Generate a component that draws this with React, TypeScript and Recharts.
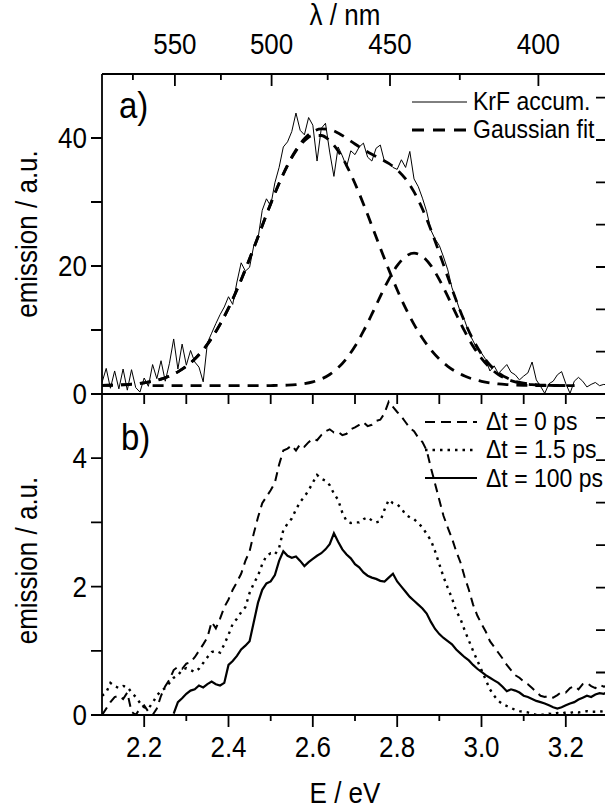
import React from 'react';
import { LineChart, Line, XAxis, YAxis, Legend, Customized } from 'recharts';

const FONT = '"Liberation Sans", Arial, Helvetica, sans-serif';
const INK = '#000';
const STRETCH = 1.12; // lettering in the figure is a bit taller than plain Arial

// photon energy grid of the measured spectra (eV)
const energy = [
  2.10, 2.11, 2.12, 2.13, 2.14, 2.15, 2.16, 2.17, 2.18, 2.19,
  2.20, 2.21, 2.22, 2.23, 2.24, 2.25, 2.26, 2.27, 2.28, 2.29,
  2.30, 2.31, 2.32, 2.33, 2.34, 2.35, 2.36, 2.37, 2.38, 2.39,
  2.40, 2.41, 2.42, 2.43, 2.44, 2.45, 2.46, 2.47, 2.48, 2.49,
  2.50, 2.51, 2.52, 2.53, 2.54, 2.55, 2.56, 2.57, 2.58, 2.59,
  2.60, 2.61, 2.62, 2.63, 2.64, 2.65, 2.66, 2.67, 2.68, 2.69,
  2.70, 2.71, 2.72, 2.73, 2.74, 2.75, 2.76, 2.77, 2.78, 2.79,
  2.80, 2.81, 2.82, 2.83, 2.84, 2.85, 2.86, 2.87, 2.88, 2.89,
  2.90, 2.91, 2.92, 2.93, 2.94, 2.95, 2.96, 2.97, 2.98, 2.99,
  3.00, 3.01, 3.02, 3.03, 3.04, 3.05, 3.06, 3.07, 3.08, 3.09,
  3.10, 3.11, 3.12, 3.13, 3.14, 3.15, 3.16, 3.17, 3.18, 3.19,
  3.20, 3.21, 3.22, 3.23, 3.24, 3.25, 3.26, 3.27, 3.28, 3.29,
  3.30,
];

// a) accumulated KrF emission
const krfAccum = [
  1.8, 4.0, 0.9, 3.6, 0.8, 3.9, 0.6, 3.8, 1.0, 0.3,
  2.5, 1.2, 4.6, 2.4, 5.2, 2.0, 4.8, 8.6, 3.9, 7.8,
  4.5, 6.8, 5.0, 4.2, 1.9, 8.0, 9.5, 11.0, 12.4, 13.6,
  15.2, 14.0, 17.5, 20.5, 19.2, 19.8, 23.2, 24.3, 28.7, 30.5,
  29.4, 33.0, 35.4, 38.6, 39.4, 41.0, 43.9, 41.2, 40.5, 43.2,
  42.0, 36.4, 41.5, 42.3, 37.8, 34.0, 38.6, 37.2, 35.5, 38.0,
  37.4, 38.6, 39.2, 37.0, 36.4, 38.4, 38.9, 36.3, 36.1, 35.4,
  35.1, 36.6, 35.4, 37.9, 33.6, 32.4, 30.6, 28.5, 25.6, 24.2,
  23.2, 21.4, 19.4, 16.6, 14.8, 12.8, 11.5, 9.6, 8.3, 7.0,
  6.4, 5.4, 3.6, 4.4, 3.2, 3.9, 4.6, 3.4, 3.0, 2.2,
  2.8, 3.3, 5.0, 2.2, 1.2, 0.1, 1.6, 2.0, 3.0, 3.5,
  1.6, 0.1, 2.0, 2.6, 2.0, 1.1, 1.5, 1.8, 1.3, 1.5,
  1.4,
];

// a) Gaussian fit: sum and its two components
const fitEnergy = [
  2.10, 2.12, 2.14, 2.16, 2.18, 2.20, 2.22, 2.24, 2.26, 2.28,
  2.30, 2.32, 2.34, 2.36, 2.38, 2.40, 2.42, 2.44, 2.46, 2.48,
  2.50, 2.52, 2.54, 2.56, 2.58, 2.60, 2.62, 2.64, 2.66, 2.68,
  2.70, 2.72, 2.74, 2.76, 2.78, 2.80, 2.82, 2.84, 2.86, 2.88,
  2.90, 2.92, 2.94, 2.96, 2.98, 3.00, 3.02, 3.04, 3.06, 3.08,
  3.10, 3.12, 3.14, 3.16, 3.18, 3.20, 3.22,
];
const fitSum = [
  1.34, 1.37, 1.41, 1.48, 1.58, 1.74, 1.98, 2.32, 2.80, 3.46,
  4.33, 5.47, 6.92, 8.72, 10.88, 13.41, 16.28, 19.45, 22.83, 26.29,
  29.72, 32.93, 35.78, 38.14, 39.89, 40.98, 41.43, 41.32, 40.78, 39.96,
  39.06, 38.21, 37.46, 36.78, 36.03, 35.03, 33.60, 31.58, 28.91, 25.67,
  22.05, 18.28, 14.63, 11.31, 8.49, 6.24, 4.54, 3.33, 2.52, 2.00,
  1.69, 1.50, 1.40, 1.35, 1.32, 1.31, 1.30,
];
const fitLow = [
  1.34, 1.37, 1.41, 1.48, 1.58, 1.74, 1.98, 2.32, 2.80, 3.46,
  4.33, 5.47, 6.92, 8.72, 10.88, 13.41, 16.28, 19.45, 22.83, 26.29,
  29.70, 32.89, 35.70, 37.98, 39.57, 40.39, 40.39, 39.57, 37.98, 35.70,
  32.89, 29.70, 26.29, 22.83, 19.45, 16.28, 13.41, 10.88, 8.72, 6.92,
  5.47, 4.33, 3.46, 2.80, 2.32, 1.98, 1.74, 1.58, 1.48, 1.41,
  1.37, 1.34, 1.32, 1.31, 1.30, 1.30, 1.30,
];
const fitHigh = [
  null, null, null, null, null, null, 1.30, 1.30, 1.30, 1.30,
  1.30, 1.30, 1.30, 1.30, 1.30, 1.30, 1.30, 1.30, 1.30, 1.30,
  1.32, 1.34, 1.38, 1.46, 1.62, 1.89, 2.34, 3.05, 4.10, 5.56,
  7.47, 9.81, 12.47, 15.25, 17.88, 20.05, 21.49, 22.00, 21.49, 20.05,
  17.88, 15.25, 12.47, 9.81, 7.47, 5.56, 4.10, 3.05, 2.34, 1.89,
  1.62, 1.46, 1.38, 1.34, 1.32, 1.30, 1.30,
];

// b) transient spectra at three delays
const dt0ps = [
  0.00, 0.10, 0.20, 0.28, 0.30, 0.25, 0.35, 0.05, 0.00, 0.10,
  0.15, 0.05, 0.00, 0.10, 0.30, 0.45, 0.55, 0.70, 0.75, 0.72,
  0.80, 0.82, 0.90, 1.00, 1.10, 1.21, 1.45, 1.35, 1.50, 1.68,
  1.80, 1.95, 2.07, 2.20, 2.40, 2.55, 2.83, 3.08, 3.30, 3.40,
  3.50, 3.62, 3.90, 4.12, 4.15, 4.20, 4.12, 4.22, 4.18, 4.25,
  4.30, 4.28, 4.36, 4.42, 4.45, 4.40, 4.41, 4.36, 4.38, 4.45,
  4.48, 4.52, 4.56, 4.50, 4.52, 4.58, 4.60, 4.70, 4.88, 4.80,
  4.72, 4.65, 4.56, 4.47, 4.42, 4.32, 4.25, 4.12, 3.85, 3.60,
  3.35, 3.10, 2.92, 2.75, 2.55, 2.38, 2.15, 1.95, 1.72, 1.55,
  1.42, 1.30, 1.15, 1.06, 0.97, 0.88, 0.78, 0.70, 0.62, 0.58,
  0.52, 0.48, 0.42, 0.36, 0.30, 0.28, 0.30, 0.27, 0.31, 0.36,
  0.35, 0.42, 0.45, 0.40, 0.48, 0.50, 0.45, 0.42, 0.47, 0.44,
  0.46,
];
const dt15ps = [
  0.30, 0.35, 0.50, 0.45, 0.42, 0.45, 0.44, 0.35, 0.28, 0.19,
  0.12, 0.10, 0.19, 0.30, 0.38, 0.42, 0.50, 0.58, 0.62, 0.70,
  0.73, 0.70, 0.67, 0.72, 0.81, 0.90, 0.98, 1.00, 0.97, 1.10,
  1.25, 1.42, 1.50, 1.60, 1.68, 1.90, 2.05, 2.17, 2.35, 2.48,
  2.52, 2.50, 2.60, 2.88, 2.98, 3.06, 3.20, 3.32, 3.40, 3.50,
  3.62, 3.74, 3.68, 3.65, 3.58, 3.45, 3.35, 3.15, 3.02, 2.99,
  3.00, 3.00, 3.05, 3.08, 3.03, 3.00, 3.02, 3.20, 3.35, 3.30,
  3.28, 3.22, 3.12, 3.08, 3.05, 2.99, 2.92, 2.82, 2.72, 2.55,
  2.35, 2.15, 1.98, 1.82, 1.62, 1.50, 1.32, 1.16, 1.00, 0.85,
  0.70, 0.55, 0.40, 0.30, 0.22, 0.17, 0.14, 0.11, 0.08, 0.06,
  0.05, 0.04, 0.02, 0.00, 0.00, 0.01, 0.02, 0.01, 0.03, 0.02,
  0.04, 0.03, 0.05, 0.04, 0.05, 0.06, 0.05, 0.05, 0.06, 0.05,
  0.07,
];
const dt100ps = [
  null, null, null, null, null, null, null, null, null, null,
  null, null, null, null, null, null, null, 0.02, 0.20, 0.26,
  0.33, 0.38, 0.40, 0.46, 0.43, 0.48, 0.52, 0.48, 0.46, 0.50,
  0.78, 0.84, 0.92, 1.02, 1.08, 1.15, 1.45, 1.75, 1.95, 2.05,
  2.08, 2.18, 2.40, 2.55, 2.48, 2.45, 2.47, 2.40, 2.32, 2.38,
  2.43, 2.48, 2.52, 2.58, 2.66, 2.83, 2.70, 2.58, 2.50, 2.44,
  2.35, 2.30, 2.22, 2.17, 2.14, 2.12, 2.09, 2.08, 2.14, 2.20,
  2.08, 2.00, 1.92, 1.84, 1.78, 1.72, 1.66, 1.58, 1.45, 1.34,
  1.26, 1.20, 1.15, 1.10, 1.02, 0.96, 0.90, 0.85, 0.78, 0.72,
  0.67, 0.62, 0.58, 0.54, 0.50, 0.44, 0.37, 0.40, 0.38, 0.35,
  0.30, 0.28, 0.25, 0.22, 0.20, 0.18, 0.15, 0.12, 0.10, 0.12,
  0.15, 0.18, 0.20, 0.24, 0.27, 0.30, 0.28, 0.32, 0.34, 0.33,
  0.36,
];

// axis ticks
const lambdaMajor = [550, 500, 450, 400];
const lambdaMinor = [575, 525, 475, 425];
const energyMajor = [2.2, 2.4, 2.6, 2.8, 3.0, 3.2];
const energyMinor = [2.3, 2.5, 2.7, 2.9, 3.1];
const ticksA = [0, 10, 20, 30, 40];
const labelsA = [0, 20, 40];
const ticksB = [0, 1, 2, 3, 4];
const labelsB = [0, 2, 4];
const rightTicks = [1, 2, 3, 4, 5, 6, 7];

// the printed wavelength scale sits a few nm off 1239.84/E
const HC = 1239.84;
const LAMBDA_SHIFT = 4.5;
const toE = (nm: number) => HC / (nm - LAMBDA_SHIFT);
const lambdaMajorE = lambdaMajor.map(toE);
const lambdaMinorE = lambdaMinor.map(toE);

const rows = (xs: number[], ys: (number | null)[]) => xs.map((e, i) => ({ e, v: ys[i] }));

const krfRows = rows(energy, krfAccum);
const sumRows = rows(fitEnergy, fitSum);
const lowRows = rows(fitEnergy, fitLow);
const highRows = rows(fitEnergy, fitHigh);
const dt0Rows = rows(energy, dt0ps);
const dt15Rows = rows(energy, dt15ps);
const dt100Rows = rows(energy, dt100ps);

// layout
const CHART_W = 620;
const A_H = 410;
const B_H = 430;
const MARGIN_L = 42;
const MARGIN_R = 12;
const YAXIS_W = 60;
const E_MIN = 2.1;
const E_MAX = 3.3;
const E_DOMAIN: [number, number] = [E_MIN, E_MAX];
const A_MAX = 50;
const B_MAX = 5;
const R_MAX = 7.56;
const X0 = MARGIN_L + YAXIS_W;
const X1 = CHART_W - MARGIN_R;
const PX_PER_EV = (X1 - X0) / (E_MAX - E_MIN);
const ex = (e: number) => X0 + (e - E_MIN) * PX_PER_EV;

const A_TOP = 74;
const A_BOT = 394;
const B_TOP = 14;
const B_BOT = 335;

const axisLine = { stroke: INK, strokeWidth: 1.8 };

// text drawn at (x, y) baseline, slightly stretched vertically
const T = ({ x, y, size, anchor = 'start', rotate = 0, children }: any) => (
  <text
    transform={`translate(${x} ${y}) rotate(${rotate}) scale(1 ${STRETCH})`}
    fontSize={size}
    textAnchor={anchor}
    fontFamily={FONT}
    fill={INK}
  >
    {children}
  </text>
);

// tick marks: v = vertical at x from y over len, h = horizontal at y from x over len
const vPath = (xs: number[], y: number, len: number) => xs.map((x) => `M${x.toFixed(1)},${y}v${len}`).join('');
const hPath = (ys: number[], x: number, len: number) => ys.map((y) => `M${x},${y.toFixed(1)}h${len}`).join('');

const ticksPanelA = () => {
  const ya = (v: number) => A_BOT - (v * (A_BOT - A_TOP)) / A_MAX;
  const yr = (k: number) => A_BOT - (k * (A_BOT - A_TOP)) / R_MAX;
  return [
    vPath(lambdaMajorE.map(ex), A_TOP, 12),
    vPath(lambdaMinorE.map(ex), A_TOP, 6),
    vPath([...energyMajor, ...energyMinor].map(ex), A_BOT, 10),
    hPath(ticksA.map(ya), X0, -11),
    hPath(rightTicks.map(yr), X1, -12),
  ].join('');
};

const ticksPanelB = () => {
  const yb = (v: number) => B_BOT - (v * (B_BOT - B_TOP)) / B_MAX;
  const yr = (k: number) => B_BOT - (k * (B_BOT - B_TOP)) / R_MAX;
  return [
    vPath(energyMajor.map(ex), B_BOT, 12),
    vPath(energyMinor.map(ex), B_BOT, 6),
    hPath(ticksB.map(yb), X0, -11),
    hPath(rightTicks.map(yr), X1, -12),
  ].join('');
};

const TopLabel = ({ x, y, index }: any) => (
  <T x={x} y={Number(y) - 20} size={26} anchor="middle">{lambdaMajor[index]}</T>
);

const BottomLabel = ({ x, y, payload }: any) => (
  <T x={x} y={Number(y) + 42} size={26} anchor="middle">{Number(payload.value).toFixed(1)}</T>
);

const leftLabel = ({ x, y, payload }: any) => (
  <T x={Number(x) - 15} y={Number(y) + 10} size={26} anchor="end">{payload.value}</T>
);

const yTitle = (shift: number) => ({ viewBox }: any) => (
  <T x={37} y={viewBox.y + viewBox.height / 2 + shift} size={26} anchor="middle" rotate={-90}>
    emission / a.u.
  </T>
);

const overlayStyle = { display: 'block', overflow: 'visible', pointerEvents: 'none' } as const;

// legend of panel a, laid over the whole chart together with the frame ticks
const LegendA = () => (
  <svg width={CHART_W} height={A_H} style={overlayStyle}>
    <path d={ticksPanelA()} stroke={INK} strokeWidth={1.8} fill="none" />
    <line x1={412} x2={467} y1={102} y2={102} stroke={INK} strokeWidth={1} />
    <T x={473} y={110} size={23}>KrF accum.</T>
    <line x1={412} x2={467} y1={130} y2={130} stroke={INK} strokeWidth={2.8} strokeDasharray="12 9" />
    <T x={473} y={138} size={23}>Gaussian fit</T>
  </svg>
);

const LegendB = () => (
  <svg width={CHART_W} height={B_H} style={overlayStyle}>
    <path d={ticksPanelB()} stroke={INK} strokeWidth={1.8} fill="none" />
    <line x1={425} x2={477} y1={42} y2={42} stroke={INK} strokeWidth={2} strokeDasharray="10 6" />
    <T x={486} y={50} size={23}>Δt = 0 ps</T>
    <line x1={425} x2={477} y1={70} y2={70} stroke={INK} strokeWidth={2.4} strokeDasharray="2.5 5" />
    <T x={486} y={78} size={23}>Δt = 1.5 ps</T>
    <line x1={425} x2={477} y1={98} y2={98} stroke={INK} strokeWidth={2.2} />
    <T x={486} y={107} size={23}>Δt = 100 ps</T>
  </svg>
);

function PanelA() {
  return (
    <LineChart width={CHART_W} height={A_H} margin={{ top: 0, right: MARGIN_R, bottom: 0, left: MARGIN_L }}>
      <XAxis
        xAxisId="top"
        orientation="top"
        type="number"
        dataKey="e"
        domain={E_DOMAIN}
        allowDataOverflow
        ticks={lambdaMajorE}
        interval={0}
        height={A_TOP}
        tickSize={0}
        tickMargin={0}
        tickLine={false}
        tick={TopLabel}
        axisLine={axisLine}
        label={({ viewBox }: any) => (
          <T x={viewBox.x + 243} y={25} size={26} anchor="middle">λ / nm</T>
        )}
      />
      <XAxis xAxisId="join" orientation="bottom" type="number" dataKey="e" domain={E_DOMAIN} allowDataOverflow height={16} tick={false} tickLine={false} axisLine={axisLine} />
      <YAxis
        yAxisId="l"
        type="number"
        domain={[0, A_MAX]}
        allowDataOverflow
        ticks={labelsA}
        interval={0}
        width={YAXIS_W}
        tickSize={0}
        tickMargin={0}
        tickLine={false}
        tick={leftLabel}
        axisLine={axisLine}
        label={yTitle(0)}
      />
      <YAxis yAxisId="r" orientation="right" type="number" domain={[0, R_MAX]} allowDataOverflow width={0} tick={false} tickLine={false} axisLine={axisLine} />
      <Line xAxisId="top" yAxisId="l" data={krfRows} dataKey="v" type="linear" stroke={INK} strokeWidth={1} dot={false} activeDot={false} isAnimationActive={false} />
      <Line xAxisId="top" yAxisId="l" data={sumRows} dataKey="v" type="monotone" stroke={INK} strokeWidth={2.8} strokeDasharray="11 8" dot={false} activeDot={false} isAnimationActive={false} />
      <Line xAxisId="top" yAxisId="l" data={lowRows} dataKey="v" type="monotone" stroke={INK} strokeWidth={2.8} strokeDasharray="11 8" dot={false} activeDot={false} isAnimationActive={false} />
      <Line xAxisId="top" yAxisId="l" data={highRows} dataKey="v" type="monotone" stroke={INK} strokeWidth={2.8} strokeDasharray="11 8" dot={false} activeDot={false} isAnimationActive={false} />
      <Legend layout="vertical" align="center" verticalAlign="middle" content={LegendA} wrapperStyle={{ left: 0, top: 0, width: CHART_W, height: A_H }} />
      <Customized component={() => <T x={119} y={118} size={33}>a)</T>} />
    </LineChart>
  );
}

function PanelB() {
  return (
    <LineChart width={CHART_W} height={B_H} margin={{ top: B_TOP, right: MARGIN_R, bottom: 0, left: MARGIN_L }}>
      <XAxis
        xAxisId="e"
        orientation="bottom"
        type="number"
        dataKey="e"
        domain={E_DOMAIN}
        allowDataOverflow
        ticks={energyMajor}
        interval={0}
        height={95}
        tickSize={0}
        tickMargin={0}
        tickLine={false}
        tick={BottomLabel}
        axisLine={axisLine}
        label={({ viewBox }: any) => (
          <T x={viewBox.x + 243} y={viewBox.y + 88} size={26} anchor="middle">E / eV</T>
        )}
      />
      <YAxis
        yAxisId="l"
        type="number"
        domain={[0, B_MAX]}
        allowDataOverflow
        ticks={labelsB}
        interval={0}
        width={YAXIS_W}
        tickSize={0}
        tickMargin={0}
        tickLine={false}
        tick={leftLabel}
        axisLine={axisLine}
        label={yTitle(6)}
      />
      <YAxis yAxisId="r" orientation="right" type="number" domain={[0, R_MAX]} allowDataOverflow width={0} tick={false} tickLine={false} axisLine={axisLine} />
      <Line xAxisId="e" yAxisId="l" data={dt0Rows} dataKey="v" type="linear" stroke={INK} strokeWidth={2} strokeDasharray="9 6" dot={false} activeDot={false} isAnimationActive={false} />
      <Line xAxisId="e" yAxisId="l" data={dt15Rows} dataKey="v" type="linear" stroke={INK} strokeWidth={2.4} strokeDasharray="2.5 5" dot={false} activeDot={false} isAnimationActive={false} />
      <Line xAxisId="e" yAxisId="l" data={dt100Rows} dataKey="v" type="linear" stroke={INK} strokeWidth={2.2} dot={false} activeDot={false} isAnimationActive={false} />
      <Legend layout="vertical" align="center" verticalAlign="middle" content={LegendB} wrapperStyle={{ left: 0, top: 0, width: CHART_W, height: B_H }} />
      <Customized component={() => <T x={121} y={70} size={33}>b)</T>} />
    </LineChart>
  );
}

export default function App() {
  return (
    <div style={{ position: 'absolute', left: 0, top: 0, width: 605, height: 810, overflow: 'hidden', background: '#fff' }}>
      <div style={{ position: 'absolute', left: 0, top: 0 }}>
        <PanelA />
      </div>
      <div style={{ position: 'absolute', left: 0, top: 380 }}>
        <PanelB />
      </div>
    </div>
  );
}
